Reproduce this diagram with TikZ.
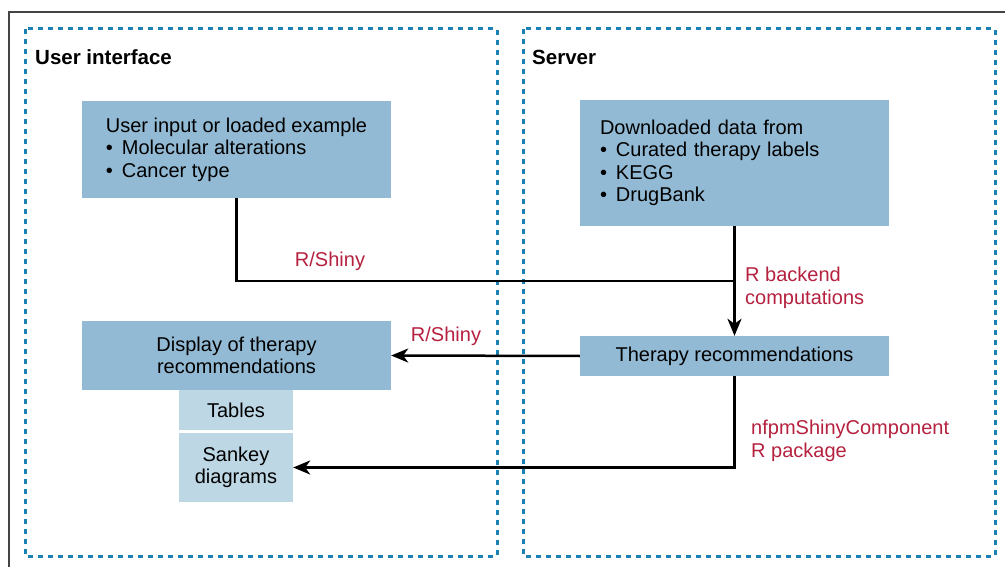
\documentclass[tikz,border=0pt]{standalone}
\usepackage{fontspec}
\setmainfont{Liberation Sans}
\usetikzlibrary{arrows.meta}
\definecolor{boxblue}{HTML}{93BAD4}
\definecolor{boxlight}{HTML}{BDD7E5}
\definecolor{dashblue}{HTML}{1B80B2}
\definecolor{labelred}{HTML}{B5213F}
\definecolor{framegray}{HTML}{444444}
\newcommand{\bitem}{\makebox[16pt][l]{\textbullet}}

\begin{document}
\begin{tikzpicture}[x=1pt, y=-1pt,
    txt/.style={font=\fontsize{20}{22.5}\selectfont, inner sep=0pt},
    box/.style={txt, fill=boxblue},
    subbox/.style={txt, fill=boxlight, minimum width=114pt, align=center},
    panel/.style={dashblue, line width=3pt, dash pattern=on 5pt off 5pt},
    title/.style={font=\fontsize{20.5}{24}\selectfont\bfseries, anchor=west, inner sep=0pt},
    lbl/.style={txt, labelred, align=left},
    conn/.style={line width=2.5pt},
    arr/.style={conn, -{Stealth[length=17pt, width=14pt, inset=5pt]}}]
      \clip (0,0) rectangle (1005,567);
      \draw[framegray, line width=1.5pt] (9,12) rectangle (1030,590);
      \draw[panel] (25,29) rectangle (497,556);
      \draw[panel] (523,29) rectangle (995,556);

      \node[title] (ui) at (35,57) {User interface};
      \node[title] (srv) at (532,57) {Server};

      \node[box, minimum width=309pt, minimum height=97pt, align=left] (inp) at (236.5,149.5)
        {User input or loaded example\\ \bitem Molecular alterations\\ \bitem Cancer type};
      \node[box, minimum width=309pt, minimum height=126pt, text width=269pt, align=left] (dl) at (734.5,163)
        {Downloaded data from\\ \bitem Curated therapy labels\\ \bitem KEGG\\ \bitem DrugBank};
      \node[box, minimum width=309pt, minimum height=40pt] (rec) at (734.5,356) {Therapy recommendations};
      \node[box, minimum width=309pt, minimum height=69pt, align=center] (disp) at (236.5,355.5)
        {Display of therapy\\recommendations};
      \node[subbox, minimum height=40pt] (tab) at (236,410) {Tables};
      \node[subbox, minimum height=69pt] (sankey) at (236,467.5) {Sankey\\diagrams};

      \coordinate (jn) at (734.5,281);
      \draw[conn] (inp.south) |- (jn);
      \draw[arr] (dl.south) -- (rec.north);
      \draw[arr] (rec.west) -- (disp.east);
      \draw[arr] (rec.south) |- (sankey.east);

      \node[lbl] (shiny1) at (330,261) {R/Shiny};
      \node[lbl] (shiny2) at (446,336) {R/Shiny};
      \node[lbl, anchor=west] (backend) at (745,288) {R backend\\computations};
      \node[lbl, anchor=west] (pkg) at (751,441) {nfpmShinyComponent\\R package};
\end{tikzpicture}
\end{document}
